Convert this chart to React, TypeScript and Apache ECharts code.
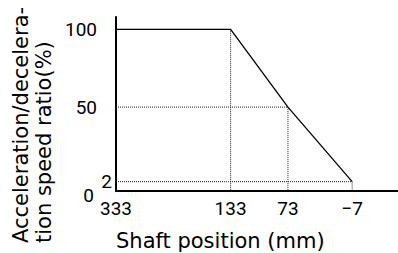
import React, { useEffect, useRef } from 'react';
import * as echarts from 'echarts';

// ---- data ----
const shaftPositions = [333, 133, 73, -7];
const speedRatios = [100, 100, 50, 2];
const xTickLabels = ['333', '133', '73', '−7'];
const yTickValues = [0, 2, 50, 100];
const xAxisTitle = 'Shaft position (mm)';
const yAxisTitle = 'Acceleration/decelera-\ntion speed ratio(%)';

// ---- schematic (non-proportional) layout of the shaft-position axis ----
const X_SLOTS = [0, 2, 3, 4.12];
const X_MAX = 4.92;
const Y_MIN = -4;
const Y_MAX = 108;

const slotOf = (pos: number) => X_SLOTS[shaftPositions.indexOf(pos)];
const labelOfSlot = (v: number) => {
  const i = X_SLOTS.findIndex((s) => Math.abs(s - v) < 1e-6);
  return i >= 0 ? xTickLabels[i] : '';
};

const TICK_FONT = 'Roboto';
const NAME_FONT = '"DejaVu Sans", sans-serif';

export default function App() {
  const ref = useRef<HTMLDivElement>(null);

  useEffect(() => {
    if (!ref.current) return;
    const chart = echarts.init(ref.current, null, { renderer: 'svg' });

    const mainData = shaftPositions.map((p, i) => [slotOf(p), speedRatios[i]]);
    const guideSeries = shaftPositions.slice(1).map((p, k) => {
      const r = speedRatios[k + 1];
      const x = slotOf(p);
      return {
        type: 'line',
        data: [
          [0, r],
          [x, r],
          [x, Y_MIN],
        ],
        symbol: 'none',
        silent: true,
        clip: false,
        z: 1,
        lineStyle: { color: '#222', width: 1, type: [1, 1] },
      };
    });

    const tickText = { fontSize: 19, fontFamily: TICK_FONT, color: '#000' };

    chart.setOption({
      animation: false,
      backgroundColor: '#fff',
      grid: { left: 116, right: 0, top: 17, bottom: 62 },
      xAxis: {
        type: 'value',
        min: 0,
        max: X_MAX,
        axisLine: { show: true, onZero: false, lineStyle: { color: '#000', width: 2 } },
        axisTick: { show: false },
        splitLine: { show: false },
        axisLabel: {
          customValues: X_SLOTS,
          formatter: (v: number) => labelOfSlot(v),
          margin: 8,
          ...tickText,
        },
      },
      yAxis: {
        type: 'value',
        min: Y_MIN,
        max: Y_MAX,
        axisLine: { show: true, onZero: false, lineStyle: { color: '#000', width: 2 } },
        axisTick: { show: false },
        splitLine: { show: false },
        axisLabel: {
          customValues: yTickValues,
          margin: 4,
          ...tickText,
          formatter: (v: number) => {
            if (v === 0) return '{z|0}';
            if (v === 2) return '{t|2}';
            return '{n|' + v + '}';
          },
          rich: {
            n: { ...tickText, padding: [0, 15, 0, 0] },
            t: { ...tickText, padding: [0, 0, 0, 0] },
            z: { ...tickText, padding: [22, 18, 0, 0] },
          },
        },
      },
      graphic: [
        {
          type: 'text',
          left: 116,
          top: 230,
          style: {
            text: xAxisTitle,
            fontSize: 21,
            fontFamily: NAME_FONT,
            fill: '#000',
          },
        },
        {
          type: 'text',
          x: 9,
          y: 243,
          rotation: Math.PI / 2,
          style: {
            text: yAxisTitle,
            fontSize: 21,
            fontFamily: NAME_FONT,
            lineHeight: 23,
            fill: '#000',
            align: 'left',
            verticalAlign: 'top',
          },
        },
      ],
      series: [
        ...guideSeries,
        {
          type: 'line',
          data: mainData,
          symbol: 'none',
          clip: false,
          z: 3,
          lineStyle: { color: '#000', width: 1.3 },
        },
      ],
    });

    return () => chart.dispose();
  }, []);

  return (
    <div
      ref={ref}
      style={{ position: 'absolute', left: 0, top: 0, width: 398, height: 253 }}
    />
  );
}
